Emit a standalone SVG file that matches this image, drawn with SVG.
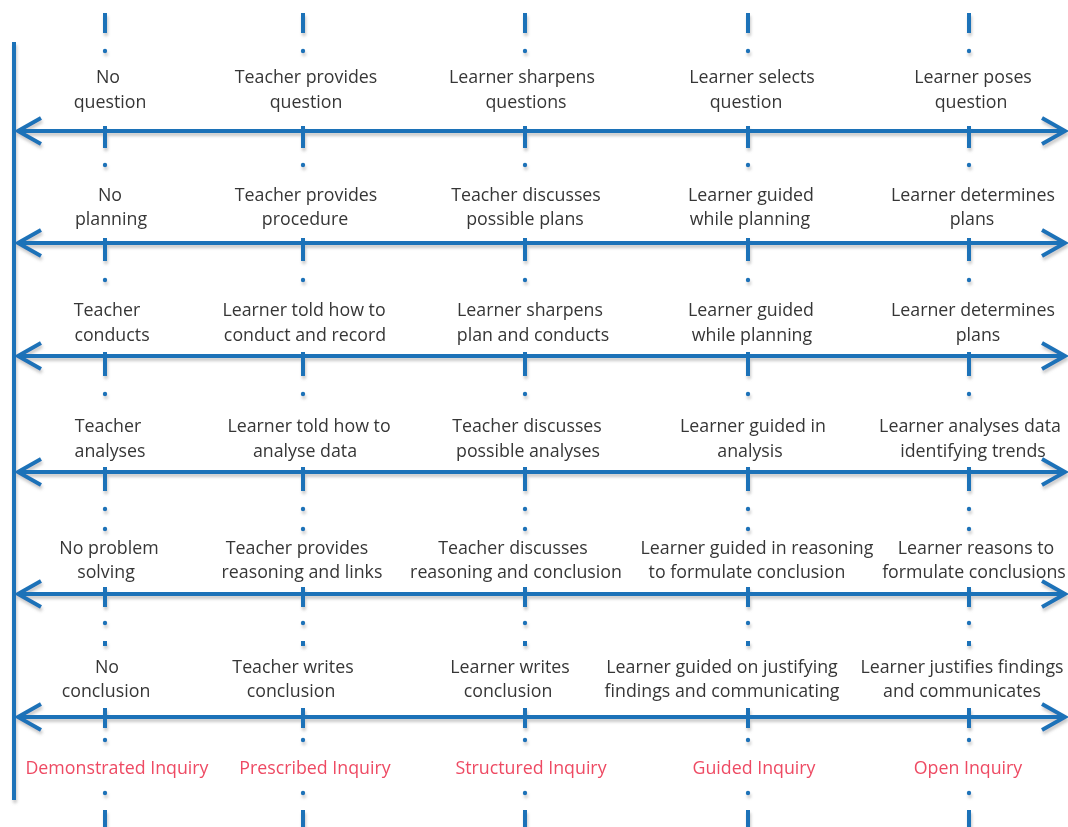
<svg xmlns="http://www.w3.org/2000/svg" width="1068" height="827" viewBox="0 0 1068 827">
<defs>
<style>
.t{font-family:"Open Sans",Lato,"Liberation Sans",sans-serif;font-size:17.8px;font-weight:500;fill:#363636;text-anchor:middle}
.r{font-family:"Open Sans",Lato,"Liberation Sans",sans-serif;font-size:17.8px;font-weight:500;fill:#ee4a63;text-anchor:middle}
.ax{stroke:#1f72b8;stroke-width:4;fill:none}
.dot{fill:#1f72b8}
</style>
<filter id="sh" x="-5%" y="-50%" width="110%" height="200%">
<feDropShadow dx="1" dy="3" stdDeviation="1.5" flood-color="#888" flood-opacity="0.45"/>
</filter>
<marker id="ah" markerUnits="userSpaceOnUse" markerWidth="34" markerHeight="34" viewBox="-28 -17 34 34" refX="0" refY="0" orient="auto-start-reverse">
<path d="M-23,-13 L0,0 L-23,13" stroke="#1f72b8" stroke-width="4" fill="none" stroke-linejoin="miter"/>
</marker>
<g id="guide">
<rect x="-2" y="13" width="4" height="20"/>
<circle cx="0" cy="51" r="2.2"/>
<rect x="-2" y="126" width="4" height="22"/>
<circle cx="0" cy="165" r="2.2"/>
<rect x="-2" y="238" width="4" height="23"/>
<circle cx="0" cy="280" r="2.2"/>
<rect x="-2" y="352" width="4" height="24"/>
<circle cx="0" cy="394" r="2.2"/>
<rect x="-2" y="467" width="4" height="24"/>
<circle cx="0" cy="509" r="2.2"/>
<circle cx="0" cy="529" r="2.2"/>
<rect x="-2" y="587" width="4" height="20"/>
<circle cx="0" cy="623" r="2.2"/>
<rect x="-2" y="641" width="4" height="5"/>
<rect x="-2" y="708" width="4" height="20"/>
<circle cx="0" cy="740" r="2.2"/>
<circle cx="0" cy="793" r="2.2"/>
<rect x="-2" y="810" width="4" height="17"/>
</g>
</defs>
<rect width="1068" height="827" fill="#fff"/>

<g id="connectors" filter="url(#sh)">
<line class="ax" x1="14" y1="42" x2="14" y2="800" stroke-width="3.5"/>
<g class="dot">
<use href="#guide" x="105"/>
<use href="#guide" x="303"/>
<use href="#guide" x="525"/>
<use href="#guide" x="748"/>
<use href="#guide" x="969"/>
</g>
<g class="ax" marker-start="url(#ah)" marker-end="url(#ah)">
<line x1="18" y1="131" x2="1065" y2="131"/>
<line x1="18" y1="243" x2="1065" y2="243"/>
<line x1="18" y1="356" x2="1065" y2="356"/>
<line x1="18" y1="472" x2="1065" y2="472"/>
<line x1="18" y1="594" x2="1065" y2="594"/>
<line x1="18" y1="717" x2="1065" y2="717"/>
</g>
</g>

<g id="r1c1"><text class="t" x="108" y="83">No</text><text class="t" x="110" y="108">question</text></g>
<g id="r1c2"><text class="t" x="306" y="83">Teacher provides</text><text class="t" x="306" y="108">question</text></g>
<g id="r1c3"><text class="t" x="522" y="83">Learner sharpens</text><text class="t" x="526" y="108">questions</text></g>
<g id="r1c4"><text class="t" x="752" y="83">Learner selects</text><text class="t" x="746" y="108">question</text></g>
<g id="r1c5"><text class="t" x="973" y="83">Learner poses</text><text class="t" x="971" y="108">question</text></g>

<g id="r2c1"><text class="t" x="110" y="201">No</text><text class="t" x="111" y="225">planning</text></g>
<g id="r2c2"><text class="t" x="306" y="201">Teacher provides</text><text class="t" x="305" y="225">procedure</text></g>
<g id="r2c3"><text class="t" x="526" y="201">Teacher discusses</text><text class="t" x="525" y="225">possible plans</text></g>
<g id="r2c4"><text class="t" x="751" y="201">Learner guided</text><text class="t" x="750" y="225">while planning</text></g>
<g id="r2c5"><text class="t" x="973" y="201">Learner determines</text><text class="t" x="972" y="225">plans</text></g>

<g id="r3c1"><text class="t" x="107" y="316">Teacher</text><text class="t" x="112" y="341">conducts</text></g>
<g id="r3c2"><text class="t" x="304" y="316">Learner told how to</text><text class="t" x="305" y="341">conduct and record</text></g>
<g id="r3c3"><text class="t" x="530" y="316">Learner sharpens</text><text class="t" x="533" y="341">plan and conducts</text></g>
<g id="r3c4"><text class="t" x="751" y="316">Learner guided</text><text class="t" x="752" y="341">while planning</text></g>
<g id="r3c5"><text class="t" x="973" y="316">Learner determines</text><text class="t" x="978" y="341">plans</text></g>

<g id="r4c1"><text class="t" x="108" y="432">Teacher</text><text class="t" x="110" y="457">analyses</text></g>
<g id="r4c2"><text class="t" x="309" y="432">Learner told how to</text><text class="t" x="305" y="457">analyse data</text></g>
<g id="r4c3"><text class="t" x="527" y="432">Teacher discusses</text><text class="t" x="528" y="457">possible analyses</text></g>
<g id="r4c4"><text class="t" x="753" y="432">Learner guided in</text><text class="t" x="750" y="457">analysis</text></g>
<g id="r4c5"><text class="t" x="970" y="432">Learner analyses data</text><text class="t" x="973" y="457">identifying trends</text></g>

<g id="r5c1"><text class="t" x="109" y="554">No problem</text><text class="t" x="106" y="578">solving</text></g>
<g id="r5c2"><text class="t" x="297" y="554">Teacher provides</text><text class="t" x="302" y="578">reasoning and links</text></g>
<g id="r5c3"><text class="t" x="513" y="554">Teacher discusses</text><text class="t" x="516" y="578">reasoning and conclusion</text></g>
<g id="r5c4"><text class="t" x="757" y="554">Learner guided in reasoning</text><text class="t" x="747" y="578">to formulate conclusion</text></g>
<g id="r5c5"><text class="t" x="976" y="554">Learner reasons to</text><text class="t" x="974" y="578">formulate conclusions</text></g>

<g id="r6c1"><text class="t" x="107" y="673">No</text><text class="t" x="106" y="697">conclusion</text></g>
<g id="r6c2"><text class="t" x="293" y="673">Teacher writes</text><text class="t" x="291" y="697">conclusion</text></g>
<g id="r6c3"><text class="t" x="510" y="673">Learner writes</text><text class="t" x="508" y="697">conclusion</text></g>
<g id="r6c4"><text class="t" x="722" y="673">Learner guided on justifying</text><text class="t" x="722" y="697">findings and communicating</text></g>
<g id="r6c5"><text class="t" x="962" y="673">Learner justifies findings</text><text class="t" x="962" y="697">and communicates</text></g>

<g id="l1"><text class="r" x="117" y="774">Demonstrated Inquiry</text></g>
<g id="l2"><text class="r" x="315" y="774">Prescribed Inquiry</text></g>
<g id="l3"><text class="r" x="531" y="774">Structured Inquiry</text></g>
<g id="l4"><text class="r" x="754" y="774">Guided Inquiry</text></g>
<g id="l5"><text class="r" x="968" y="774">Open Inquiry</text></g>
</svg>
